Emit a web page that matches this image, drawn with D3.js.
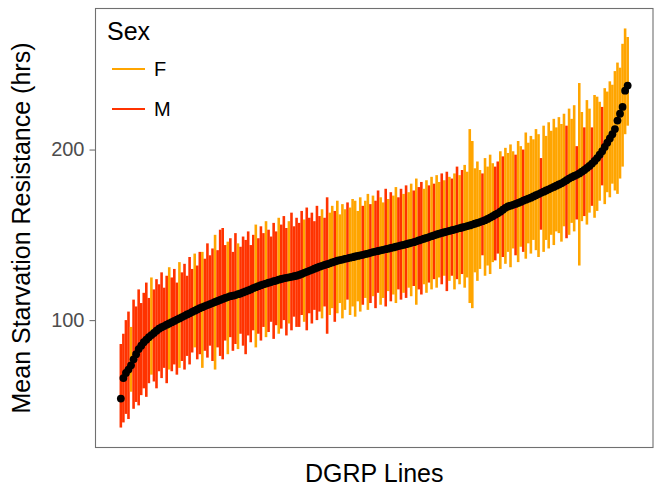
<!DOCTYPE html>
<html>
<head>
<meta charset="utf-8">
<script src="https://cdn.jsdelivr.net/npm/d3@7"></script>
<style>
  body { margin: 0; background: #fff; }
  svg { display: block; font-family: "Liberation Sans", Arial, sans-serif; }
</style>
</head>
<body>
<div id="chart"></div>
<script>
// mean starvation resistance per DGRP line, sorted (black dots)
const meanHrs = [
  54, 66, 69, 71, 73.5, 77, 80, 83, 85, 87,
  88.5, 90, 91.2, 92.5, 93.8, 95, 95.8, 96.5, 97.3, 98,
  98.8, 99.5, 100.3, 101, 101.8, 102.5, 103.3, 104, 104.8, 105.5,
  106.2, 107, 107.6, 108.2, 108.8, 109.4, 110, 110.6, 111.2, 111.8,
  112.4, 113, 113.5, 114, 114.3, 114.7, 115.2, 115.6, 116.2, 116.8,
  117.4, 118, 118.7, 119.3, 119.9, 120.5, 121, 121.4, 121.9, 122.3,
  122.8, 123.2, 123.7, 124.1, 124.5, 124.8, 125.1, 125.4, 125.7, 126,
  126.5, 127.1, 127.7, 128.3, 128.9, 129.5, 130.1, 130.7, 131.3, 131.8,
  132.3, 132.8, 133.3, 133.8, 134.3, 134.8, 135.2, 135.5, 135.9, 136.2,
  136.6, 136.9, 137.3, 137.6, 138, 138.3, 138.7, 139, 139.4, 139.8,
  140.2, 140.5, 140.9, 141.2, 141.6, 141.9, 142.3, 142.6, 143, 143.4,
  143.8, 144.1, 144.5, 144.9, 145.3, 145.7, 146.2, 146.7, 147.2, 147.7,
  148.2, 148.7, 149.2, 149.7, 150.2, 150.7, 151.1, 151.5, 151.9, 152.3,
  152.7, 153.1, 153.5, 153.9, 154.3, 154.7, 155.1, 155.5, 156, 156.5,
  157, 157.5, 158, 158.6, 159.3, 160.1, 160.9, 161.8, 162.6, 163.6,
  164.7, 165.8, 166.6, 167.1, 167.6, 168.1, 168.7, 169.3, 170, 170.6,
  171.2, 171.8, 172.5, 173.2, 173.9, 174.6, 175.3, 176, 176.7, 177.4,
  178.1, 178.8, 179.5, 180.2, 181.1, 182, 183, 183.8, 184.5, 185.2,
  186, 187, 188, 189.2, 190.4, 191.8, 193.3, 195, 197, 199,
  201.5, 204, 206.5, 209, 212, 217, 221, 225, 234.5, 237.5
];
// lower and upper ends of each line's vertical range
const lowHrs = [
  37, 40, 45, 42, 58, 48, 52, 50, 56, 60,
  55, 63, 68, 64, 60, 70, 66, 72, 63, 71,
  70, 74, 68, 72, 76, 71, 79, 74, 81, 84,
  77, 80, 72, 82, 78, 85, 76, 71, 84, 79,
  77, 88, 80, 90, 82, 86, 83, 92, 85, 80,
  91, 87, 94, 84, 92, 88, 96, 90, 93, 99,
  89, 97, 92, 95, 100, 91, 98, 94, 102, 96,
  96, 103, 99, 94, 104, 98, 106, 100, 105, 101,
  108, 92, 103, 107, 99, 104, 110, 101, 106, 112,
  103, 108, 102, 111, 105, 109, 113, 106, 110, 114,
  107, 116, 109, 113, 108, 117, 111, 115, 110, 118,
  112, 116, 113, 119, 114, 120, 109, 118, 115, 121,
  116, 122, 118, 124, 119, 125, 121, 126, 117, 123,
  126, 118, 124, 121, 127, 119, 125, 110, 107, 128,
  123, 130, 138, 126, 132, 127, 134, 135, 139, 130,
  137, 133, 140, 131, 142, 138, 134, 143, 140, 136,
  145, 139, 147, 141, 137, 153, 140, 147, 142, 150,
  144, 152, 151, 146, 155, 148, 150, 157, 152, 159,
  132, 158, 161, 156, 163, 167, 160, 164, 170, 179,
  168, 175, 172, 180, 176, 174, 183, 190, 209, 214
];
const highHrs = [
  86, 92, 100, 105, 96, 112, 108, 118, 110, 116,
  122, 113, 125, 118, 124, 121, 128, 119, 126, 131,
  125, 130, 122, 134, 128, 133, 126, 137, 130, 139,
  132, 140, 140, 136, 145, 138, 142, 150, 141, 153,
  154, 144, 146, 148, 140, 151, 145, 143, 149, 147,
  152, 144, 150, 156, 148, 155, 151, 158, 153, 149,
  157, 152, 160, 156, 161, 154, 158, 163, 155, 160,
  157, 164, 159, 166, 160, 163, 158, 167, 161, 165,
  160, 172, 163, 167, 164, 170, 162, 168, 165, 169,
  166, 171, 170, 164, 172, 167, 170, 174, 168, 173,
  170, 176, 172, 169, 177, 171, 175, 173, 178, 172,
  177, 174, 179, 175, 180, 176, 183, 178, 181, 177,
  182, 179, 184, 180, 185, 181, 186, 182, 187, 184,
  183, 186, 190, 185, 188, 191, 187, 212, 205, 189,
  193, 188, 186, 195, 190, 197, 192, 190, 193, 199,
  196, 201, 198, 203, 199, 197, 205, 202, 200, 210,
  204, 208, 206, 212, 209, 195, 214, 208, 216, 211,
  218, 213, 219, 215, 221, 214, 224, 218, 226, 202,
  239, 222, 213, 229, 224, 213, 232, 231, 228, 225,
  236, 234, 240, 238, 246, 251, 248, 262, 271, 266
];
// sex shown by each line's range, in rank order
const sexByLine = (
  "MMMMFMMMMMMMFMMMMMMFMMMFMMMMMFMMFMMMMFMMMMFMMMFMMMMMMFMMMFMMMMF" +
  "MMMFMMMMMFMMMMMMFMM" +
  "FFMFFFFMFFFFFMFF" +
  "MFMMFFMFMFFMMFMFFMFMMFFMFMFFMFMF" +
  "MFMFMF" + "FFFFFF" + "M" + "FFFF" + "MM" + "F" + "M" + "FFFF" + "M" + "FF" + "M" + "FFFFF" +
  "F" + "M" + "FFFFFFFFF" + "M" + "FFF" + "M" + "FF" + "M" + "FF" + "M" + "FFF" + "M" + "FFFFFFFFFF"
).split("");
const sexLevels = ["F", "M"];
const sexColors = ["#ffa500", "#ff3300"];
const yTicks = [100, 200];

const width = 654, height = 490;
const margin = { top: 8.5, right: 1, bottom: 42.5, left: 95.5 };
const n = meanHrs.length;

const svg = d3.select("#chart").append("svg")
  .attr("width", width)
  .attr("height", height);

const xr = n - 1;
const x = d3.scaleLinear()
  .domain([1 - 0.05 * xr, n + 0.05 * xr])
  .range([margin.left, width - margin.right]);

const yMin = d3.min(lowHrs), yMax = d3.max(highHrs);
const yr = yMax - yMin;
const y = d3.scaleLinear()
  .domain([yMin - 0.05 * yr, yMax + 0.05 * yr])
  .range([height - margin.bottom, margin.top]);

const color = d3.scaleOrdinal().domain(sexLevels).range(sexColors);

// ranges
svg.append("g").selectAll("line")
  .data(d3.range(n))
  .enter().append("line")
  .attr("x1", i => x(i + 1))
  .attr("x2", i => x(i + 1))
  .attr("y1", i => y(lowHrs[i]))
  .attr("y2", i => y(highHrs[i]))
  .attr("stroke", i => color(sexByLine[i]))
  .attr("stroke-width", 2.6);

// means
svg.append("g").selectAll("circle")
  .data(meanHrs)
  .enter().append("circle")
  .attr("cx", (d, i) => x(i + 1))
  .attr("cy", d => y(d))
  .attr("r", 3.9)
  .attr("fill", "#000");

// panel border
svg.append("rect")
  .attr("x", margin.left)
  .attr("y", margin.top)
  .attr("width", width - margin.left - margin.right)
  .attr("height", height - margin.top - margin.bottom)
  .attr("fill", "none")
  .attr("stroke", "#707070")
  .attr("stroke-width", 1.1);

// y axis
const yAxis = svg.append("g")
  .attr("transform", `translate(${margin.left},0)`)
  .call(d3.axisLeft(y).tickValues(yTicks).tickSize(6).tickPadding(5));
yAxis.select(".domain").remove();
yAxis.selectAll(".tick line").attr("stroke", "#707070").attr("stroke-width", 1.1);
yAxis.selectAll(".tick text")
  .attr("fill", "#4d4d4d")
  .style("font-size", "20px")
  .style("font-family", '"Liberation Sans", Arial, sans-serif');

// axis titles
svg.append("text")
  .attr("transform", `translate(30,${(margin.top + height - margin.bottom) / 2}) rotate(-90)`)
  .attr("text-anchor", "middle")
  .style("font-size", "25px")
  .text("Mean Starvation Resistance (hrs)");

svg.append("text")
  .attr("x", (margin.left + width - margin.right) / 2)
  .attr("y", 482)
  .attr("text-anchor", "middle")
  .style("font-size", "25px")
  .text("DGRP Lines");

// legend
const legend = svg.append("g");
legend.append("text")
  .attr("x", 107)
  .attr("y", 39.5)
  .style("font-size", "25px")
  .text("Sex");
sexLevels.forEach((s, k) => {
  const ly = 69 + k * 40;
  legend.append("line")
    .attr("x1", 112).attr("x2", 145)
    .attr("y1", ly).attr("y2", ly)
    .attr("stroke", color(s))
    .attr("stroke-width", 2.1);
  legend.append("text")
    .attr("x", 154)
    .attr("y", ly + 7)
    .style("font-size", "20px")
    .text(s);
});
</script>
</body>
</html>
